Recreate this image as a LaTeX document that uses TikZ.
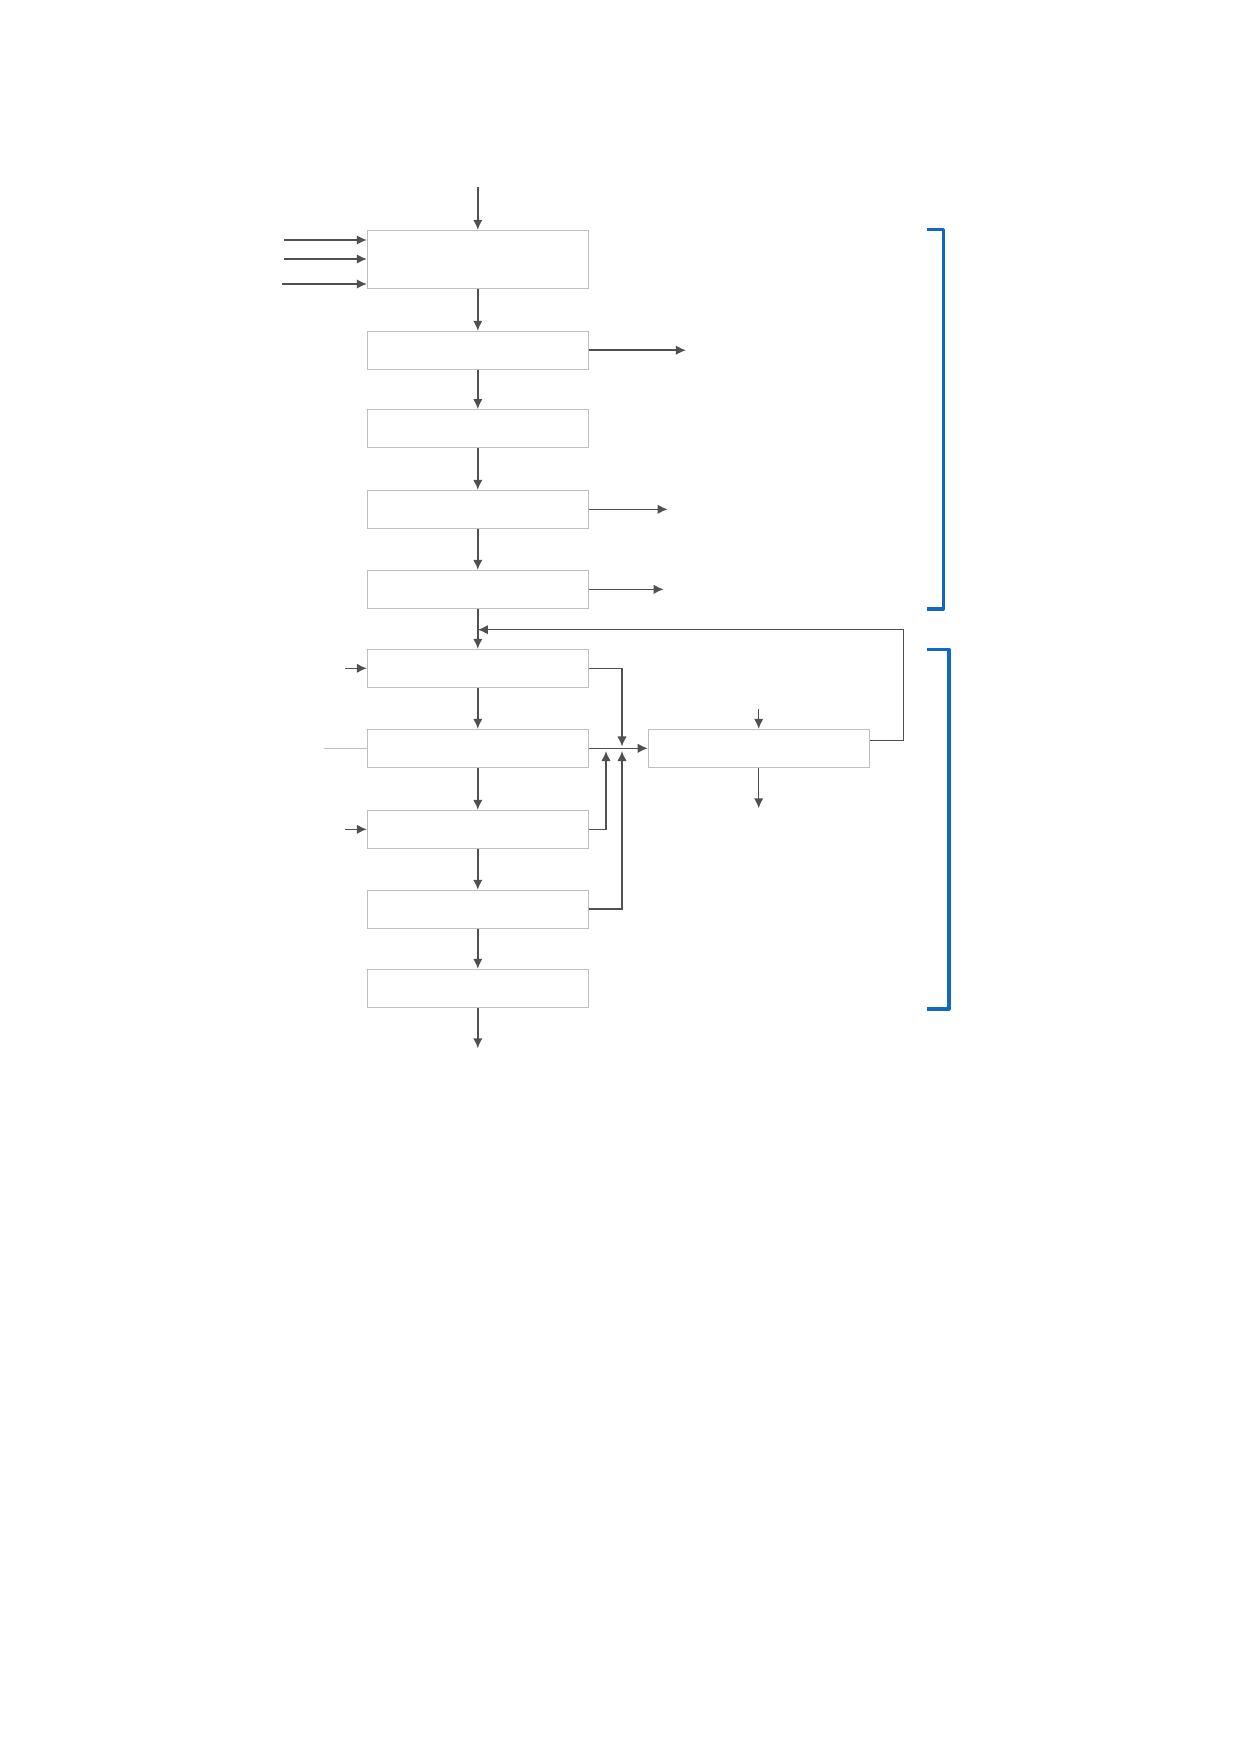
\documentclass[tikz,border=0pt]{standalone}
\usepackage{tikz}
\usepackage{xcolor}
\usetikzlibrary{arrows.meta}

\definecolor{boxgrey}{RGB}{190,190,190}
\definecolor{linegrey}{RGB}{80,80,80}
\definecolor{brkblue}{RGB}{18,104,190}

\begin{document}
\begin{tikzpicture}[
			x=0.016933cm, y=-0.016933cm,
			stage/.style = {draw=boxgrey, line width=0.5pt, minimum width=37.4mm, minimum height=6.4mm, inner sep=0pt},
			arr/.style = {draw=linegrey, line width=0.75pt, -{Latex[length=1.7mm,width=1.6mm]}},
			brk/.style = {draw=brkblue, line width=1.5pt, line join=round}
		]
		\useasboundingbox (0,0) rectangle (1241,1754);

		\node[stage, minimum height=9.8mm] (b1) at (477.8,259.3) {};
		\node[stage] (b2) at (477.8,350.2) {};
		\node[stage] (b3) at (477.8,428.5) {};
		\node[stage] (b4) at (477.8,509.3) {};
		\node[stage] (b5) at (477.8,589.3) {};
		\node[stage] (b6) at (477.8,668.3) {};
		\node[stage] (b7) at (477.8,748.3) {};
		\node[stage] (b8) at (477.8,829.3) {};
		\node[stage] (b9) at (477.8,909.2) {};
		\node[stage] (b10) at (477.8,988.2) {};
		\node[stage] (side) at (758.7,748.3) {};

		% free ends
		\coordinate (top) at (477.8,187.3);
		\coordinate (in1) at (284.3,240);
		\coordinate (in2) at (284.3,259);
		\coordinate (in3) at (282.3,284);
		\coordinate (out2) at (686,350.2);
		\coordinate (out4) at (667.7,509.3);
		\coordinate (out5) at (663.7,589.3);
		\coordinate (in6) at (344.7,668.3);
		\coordinate (in7) at (324.3,748.3);
		\coordinate (in8) at (344.7,829.3);
		\coordinate (mergeA) at (606,751);
		\coordinate (mergeB) at (622,751);
		\coordinate (mergeC) at (622,746.5);
		\coordinate (sidein) at (758.7,709);
		\coordinate (sideout) at (758.7,808.3);
		\coordinate (fb) at (903.7,629.7);
		\coordinate (bottom) at (477.8,1048.3);

		\draw[arr] (top) -- (b1);
		\draw[arr] (in1) -- (in1 -| b1.west);
		\draw[arr] (in2) -- (in2 -| b1.west);
		\draw[arr] (in3) -- (in3 -| b1.west);

		\draw[arr] (b1) -- (b2);
		\draw[arr] (b2) -- (b3);
		\draw[arr] (b3) -- (b4);
		\draw[arr] (b4) -- (b5);
		\draw[arr] (b5) -- (b6);
		\draw[arr] (b6) -- (b7);
		\draw[arr] (b7) -- (b8);
		\draw[arr] (b8) -- (b9);
		\draw[arr] (b9) -- (b10);
		\draw[arr] (b10) -- (bottom);

		\draw[arr] (b2.east) -- (out2);
		\draw[arr] (b4.east) -- (out4);
		\draw[arr] (b5.east) -- (out5);

		\draw[arr] (in6) -- (b6.west);
		\draw[arr] (in8) -- (b8.west);
		\draw[draw=boxgrey, line width=0.5pt] (in7) -- (b7.west);

		% merge into the side stage
		\draw[arr] (b6.east) -| (mergeC);
		\draw[arr] (b8.east) -| (mergeA);
		\draw[arr] (b9.east) -| (mergeB);
		\draw[arr] (b7.east) -- (side.west);

		\draw[arr] (sidein) -- (side.north);
		\draw[arr] (side.south) -- (sideout);
		\draw[arr] ([yshift=1.35mm]side.east) -| (fb) -- (fb -| b6.north);

		% brackets
		\draw[brk] (926.7,229.5) -- (943.3,229.5) -- (943.3,609) -- (926.7,609);
		\draw[brk] (926.7,649.5) -- (949,649.5) -- (949,1009) -- (926.7,1009);
	\end{tikzpicture}
\end{document}
